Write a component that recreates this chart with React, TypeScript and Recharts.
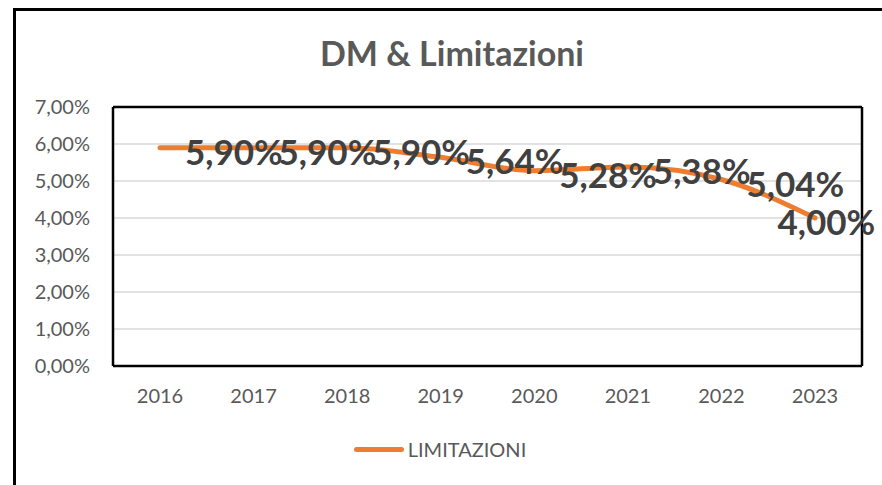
import React from 'react';
import { LineChart, Line, XAxis, YAxis, CartesianGrid, Legend } from 'recharts';

const years = ['2016', '2017', '2018', '2019', '2020', '2021', '2022', '2023'];
const limitazioni = [5.9, 5.9, 5.9, 5.64, 5.28, 5.38, 5.04, 4.0];
const yTicks = [0, 1, 2, 3, 4, 5, 6, 7];

const data = years.map((year, i) => ({ year, limitazioni: limitazioni[i] }));

const FONT = 'Lato, "Open Sans", sans-serif';
const ORANGE = '#ED7D31';
const fmt = (v: number) => `${v.toFixed(2).replace('.', ',')}%`;

const LABEL_SIZE = 35;
const CAT_PAD = 47;

function ValueLabel(props: any) {
  const { x, y, value } = props;
  const w = LABEL_SIZE * 2.9;
  const lx = Math.min(x + 25, 879 - w);
  return (
    <text
      x={lx}
      y={y + 3}
      fill="#404040"
      fontFamily={FONT}
      fontWeight={700}
      fontSize={LABEL_SIZE}
      textAnchor="start"
      dominantBaseline="central"
    >
      {fmt(value)}
    </text>
  );
}

function LegendContent() {
  return (
    <div style={{ display: 'flex', justifyContent: 'center', alignItems: 'center', fontFamily: FONT }}>
      <span style={{ width: 50, height: 5, borderRadius: 3, background: ORANGE, marginRight: 4 }} />
      <span style={{ fontSize: 20, color: '#595959' }}>LIMITAZIONI</span>
    </div>
  );
}

export default function App() {
  return (
    <div style={{ position: 'absolute', left: 0, top: 0, width: 882, height: 485, overflow: 'hidden', background: '#fff' }}>
      <div
        style={{
          position: 'absolute',
          left: 13,
          top: 8,
          width: 900,
          height: 520,
          border: '3px solid #000',
          boxSizing: 'border-box',
        }}
      />
      <div
        style={{
          position: 'absolute',
          left: 0,
          width: 904,
          top: 36,
          textAlign: 'center',
          fontFamily: FONT,
          fontWeight: 700,
          fontSize: 34,
          lineHeight: '34px',
          color: '#595959',
        }}
      >
        DM &amp; Limitazioni
      </div>
      <LineChart
        width={882}
        height={485}
        data={data}
        margin={{ top: 106, right: 19, bottom: 89, left: 0 }}
        style={{ position: 'absolute', left: 0, top: 0 }}
      >
        <CartesianGrid horizontal vertical={false} stroke="#d9d9d9" strokeWidth={1.5} />
        <XAxis
          dataKey="year"
          padding={{ left: CAT_PAD, right: CAT_PAD }}
          axisLine={{ stroke: '#000', strokeWidth: 2.5 }}
          tickLine={false}
          tickSize={0}
          tickMargin={23}
          height={30}
          tick={{ fill: '#595959', fontSize: 20, fontFamily: FONT }}
        />
        <XAxis
          xAxisId="top"
          orientation="top"
          dataKey="year"
          padding={{ left: CAT_PAD, right: CAT_PAD }}
          axisLine={{ stroke: '#000', strokeWidth: 2.5 }}
          tick={false}
          tickLine={false}
          height={1}
        />
        <YAxis
          domain={[0, 7]}
          ticks={yTicks}
          tickFormatter={fmt}
          axisLine={{ stroke: '#000', strokeWidth: 2.5 }}
          tickLine={false}
          tickSize={0}
          tickMargin={23}
          width={113}
          tick={{ fill: '#595959', fontSize: 20, fontFamily: FONT }}
        />
        <YAxis
          yAxisId="right"
          orientation="right"
          domain={[0, 7]}
          axisLine={{ stroke: '#000', strokeWidth: 2.5 }}
          tick={false}
          tickLine={false}
          width={1}
        />
        <Legend
          layout="horizontal"
          verticalAlign="middle"
          align="center"
          content={<LegendContent />}
          wrapperStyle={{ position: 'absolute', left: 0, top: 437, width: 880 }}
        />
        <Line
          type="monotone"
          dataKey="limitazioni"
          name="LIMITAZIONI"
          stroke={ORANGE}
          strokeWidth={5}
          strokeLinecap="round"
          dot={false}
          activeDot={false}
          isAnimationActive={false}
          label={<ValueLabel />}
        />
      </LineChart>
    </div>
  );
}
